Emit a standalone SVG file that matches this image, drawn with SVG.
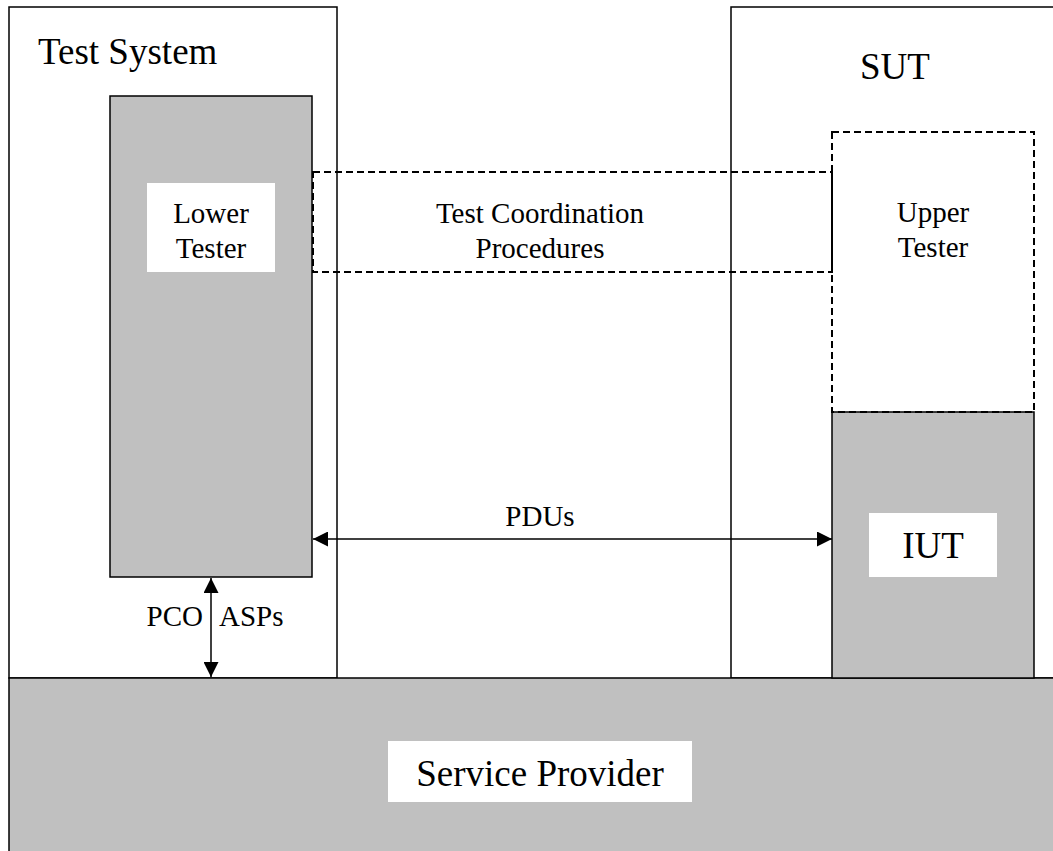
<svg xmlns="http://www.w3.org/2000/svg" width="1053" height="851" viewBox="0 0 1053 851">
  <style>
    .box { fill: #ffffff; stroke: #000000; stroke-width: 1.5; }
    .gray { fill: #c0c0c0; stroke: #000000; stroke-width: 1.5; }
    .label { fill: #ffffff; stroke: none; }
    .dash { fill: none; stroke: #000000; stroke-width: 2; stroke-dasharray: 7 4; }
    .conn { fill: none; stroke: #000000; stroke-width: 1.5; }
    text { font-family: "Liberation Serif", "Times New Roman", serif; fill: #000000; }
    .big { font-size: 37px; }
    .mid { font-size: 29px; }
  </style>
  <defs>
    <marker id="arrow" viewBox="0 0 15 15" refX="15" refY="7.5" markerWidth="15" markerHeight="15" markerUnits="userSpaceOnUse" orient="auto-start-reverse">
      <path d="M0,0 L15,7.5 L0,15 Z" fill="#000000"/>
    </marker>
  </defs>
  <rect width="1053" height="851" fill="#ffffff"/>

  <g id="test-system">
    <rect class="box" x="9" y="7" width="328" height="671"/>
    <text class="big" x="38" y="64">Test System</text>
  </g>

  <g id="sut">
    <rect class="box" x="731" y="7" width="340" height="671"/>
    <text class="big" x="895" y="79" text-anchor="middle">SUT</text>
  </g>

  <g id="service-provider">
    <rect class="gray" x="9" y="678" width="1060" height="190"/>
    <rect class="label" x="388" y="741" width="304" height="61"/>
    <text class="big" x="540" y="786" text-anchor="middle">Service Provider</text>
  </g>

  <g id="lower-tester">
    <rect class="gray" x="110" y="96" width="202" height="481"/>
    <rect class="label" x="147" y="183" width="128" height="89"/>
    <text class="mid" x="211" y="223" text-anchor="middle">Lower</text>
    <text class="mid" x="211" y="258" text-anchor="middle">Tester</text>
  </g>

  <g id="iut">
    <rect class="gray" x="832" y="412" width="202" height="266"/>
    <rect class="label" x="869" y="513" width="128" height="64"/>
    <text class="big" x="933" y="558" text-anchor="middle">IUT</text>
  </g>

  <g id="upper-tester">
    <rect class="dash" x="832" y="132" width="202" height="280"/>
    <text class="mid" x="933" y="222" text-anchor="middle">Upper</text>
    <text class="mid" x="933" y="257" text-anchor="middle">Tester</text>
  </g>

  <g id="test-coordination-procedures">
    <rect class="dash" x="313" y="172" width="519" height="100"/>
    <text class="mid" x="540" y="223" text-anchor="middle">Test Coordination</text>
    <text class="mid" x="540" y="258" text-anchor="middle">Procedures</text>
  </g>

  <g id="connectors">
    <line class="conn" x1="313" y1="539" x2="832" y2="539" marker-start="url(#arrow)" marker-end="url(#arrow)"/>
    <text class="mid" x="540" y="526" text-anchor="middle">PDUs</text>
    <line class="conn" x1="211" y1="578" x2="211" y2="677" marker-start="url(#arrow)" marker-end="url(#arrow)"/>
    <text class="mid" x="203" y="626" text-anchor="end">PCO</text>
    <text class="mid" x="219" y="626">ASPs</text>
  </g>
</svg>
